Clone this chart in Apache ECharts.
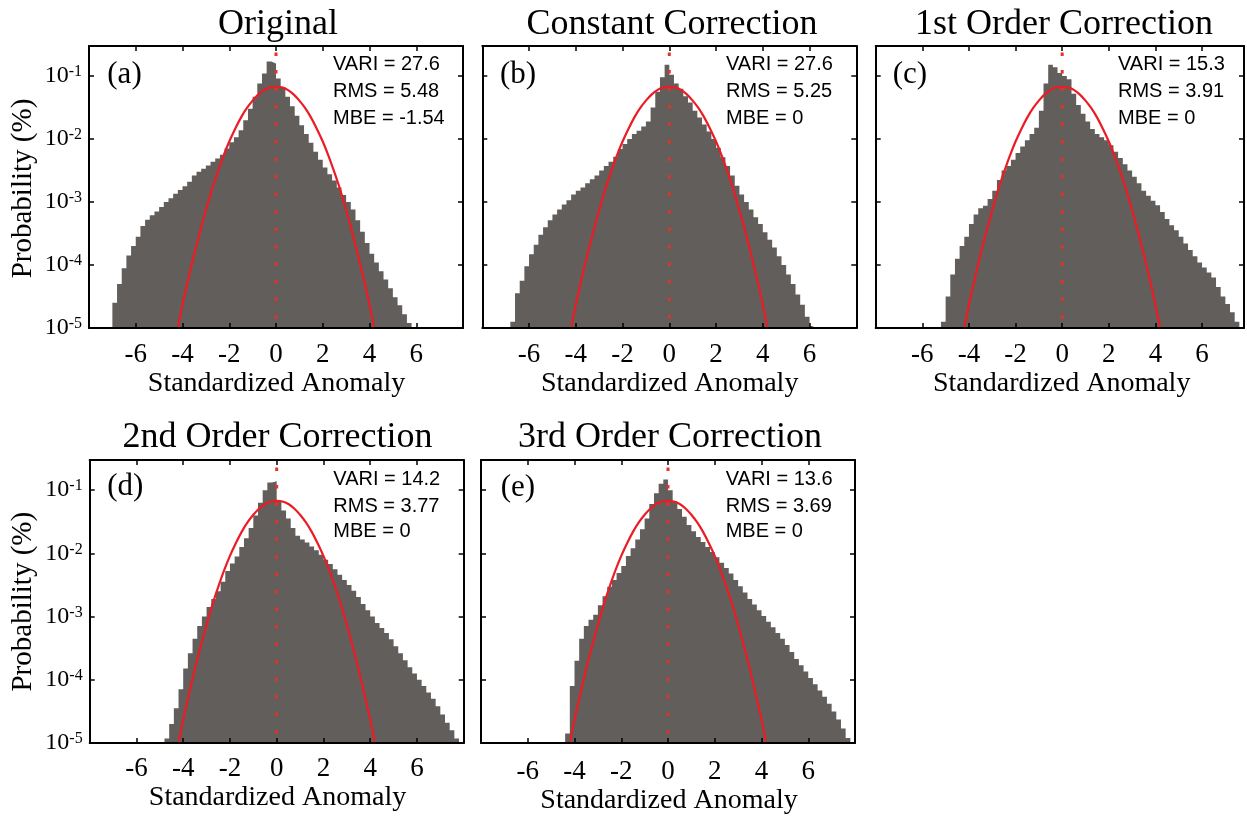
<!DOCTYPE html>
<html>
<head>
<meta charset="utf-8">
<script src="https://cdn.jsdelivr.net/npm/echarts@6/dist/echarts.min.js"></script>
<style>
html,body{margin:0;padding:0;background:#ffffff;}
#chart{width:1247px;height:816px;}
</style>
</head>
<body>
<div id="chart"></div>
<script>
// ---------------- DATA ----------------
const BIN_WIDTH = 0.2;
const panelTitles = ['Original', 'Constant Correction', '1st Order Correction', '2nd Order Correction', '3rd Order Correction'];
const panelTags = ['(a)', '(b)', '(c)', '(d)', '(e)'];
const variValues = ['27.6', '27.6', '15.3', '14.2', '13.6'];
const rmsValues = ['5.48', '5.25', '3.91', '3.77', '3.69'];
const mbeValues = ['-1.54', '0', '0', '0', '0'];
const xTickLabels = [-6, -4, -2, 0, 2, 4, 6];
const yTickExponents = [-5, -4, -3, -2, -1];
const xAxisName = 'Standardized Anomaly';
const yAxisName = 'Probability (%)';

// left edge of the first histogram bin in each panel
const binStarts = [-7.0, -6.8, -5.2, -4.8, -4.4];

// histogram bar heights, read as log10(probability) off the log axis
const log10ProbA = [
  -4.6, -4.3, -4.05, -3.85, -3.7, -3.55, -3.38, -3.28, -3.21, -3.15,
  -3.08, -3.0, -2.94, -2.87, -2.81, -2.75, -2.68, -2.58, -2.52, -2.47,
  -2.42, -2.36, -2.31, -2.25, -2.15, -2.05, -1.97, -1.86, -1.7, -1.52,
  -1.33, -1.12, -0.96, -0.77, -0.8,
  -1.04, -1.18, -1.33, -1.48, -1.63, -1.78, -1.92, -2.06, -2.2, -2.33,
  -2.45, -2.56, -2.66, -2.77, -2.89, -3.0, -3.12, -3.29, -3.47, -3.65,
  -3.82, -3.96, -4.1, -4.23, -4.37, -4.51, -4.64, -4.78, -4.92
];
const log10ProbB = [
  -4.9, -4.45, -4.25, -4.02, -3.83, -3.68, -3.52, -3.4, -3.29, -3.2,
  -3.12, -3.04, -2.97, -2.88, -2.82, -2.77, -2.7, -2.64, -2.58, -2.5,
  -2.43, -2.36, -2.28, -2.16, -2.08, -2.0, -1.92, -1.87, -1.8, -1.72,
  -1.5, -1.25, -1.02, -0.82,
  -0.98, -1.12, -1.2, -1.32, -1.42, -1.55, -1.66, -1.77, -1.88, -2.0,
  -2.14, -2.29, -2.43, -2.58, -2.74, -2.88, -3.0, -3.12, -3.24, -3.35,
  -3.48, -3.6, -3.72, -3.86, -4.0, -4.15, -4.3, -4.47, -4.63, -4.82, -4.97
];
const log10ProbC = [
  -4.9, -4.5, -4.15, -3.9, -3.7, -3.55, -3.35, -3.2, -3.1, -3.06,
  -2.95, -2.82, -2.65, -2.5, -2.43, -2.33, -2.22, -2.12, -2.02, -1.92,
  -1.82, -1.55, -1.12, -0.82, -0.86, -0.95,
  -1.0, -1.05, -1.28, -1.46, -1.6, -1.72, -1.84, -1.92, -1.97, -2.02,
  -2.1, -2.2, -2.3, -2.4, -2.5, -2.6, -2.7, -2.82, -2.9, -2.98,
  -3.05, -3.16, -3.27, -3.37, -3.45, -3.55, -3.66, -3.76, -3.86, -3.96,
  -4.04, -4.12, -4.2, -4.35, -4.5, -4.62, -4.75, -4.9
];
const log10ProbD = [
  -4.93, -4.7, -4.45, -4.15, -3.82, -3.58, -3.35, -3.15, -3.0, -2.85,
  -2.72, -2.6, -2.45, -2.28, -2.16, -2.05, -1.9, -1.76, -1.6, -1.4,
  -1.2, -1.0, -0.88, -0.86,
  -1.18, -1.32, -1.45, -1.6, -1.72, -1.78, -1.83, -1.89, -1.95, -2.02,
  -2.1, -2.17, -2.25, -2.34, -2.42, -2.5, -2.59, -2.69, -2.8, -2.9,
  -3.0, -3.1, -3.18, -3.26, -3.36, -3.47, -3.58, -3.69, -3.8, -3.9,
  -4.0, -4.1, -4.2, -4.3, -4.42, -4.55, -4.68, -4.8, -4.93
];
const log10ProbE = [
  -4.85, -4.1, -3.7, -3.35, -3.15, -3.05, -2.97, -2.82, -2.68, -2.53,
  -2.42, -2.31, -2.2, -2.04, -1.92, -1.78, -1.62, -1.45, -1.22, -1.05,
  -0.9, -0.83,
  -1.0, -1.18, -1.3, -1.42, -1.55, -1.65, -1.74, -1.82, -1.9, -1.98,
  -2.06, -2.15, -2.23, -2.32, -2.42, -2.52, -2.62, -2.72, -2.81, -2.9,
  -2.99, -3.08, -3.17, -3.26, -3.35, -3.45, -3.56, -3.67, -3.77, -3.87,
  -3.97, -4.07, -4.17, -4.27, -4.38, -4.5, -4.63, -4.77, -4.92
];
const panelLog10Prob = [log10ProbA, log10ProbB, log10ProbC, log10ProbD, log10ProbE];

// red fitted curve (same in every panel)
const curveX = [-4.2, -4.0, -3.75, -3.5, -3.25, -3.0, -2.75, -2.5, -2.25, -2.0, -1.75, -1.5, -1.25, -1.0, -0.75, -0.5, -0.25, 0,
                 0.25, 0.5, 0.75, 1.0, 1.25, 1.5, 1.75, 2.0, 2.25, 2.5, 2.75, 3.0, 3.25, 3.5, 3.75, 4.0, 4.2];
const curveLog10 = [-5.0, -4.63, -4.22, -3.83, -3.47, -3.13, -2.81, -2.53, -2.27, -2.04, -1.84, -1.66, -1.51, -1.39, -1.29, -1.22, -1.18, -1.17,
                    -1.18, -1.22, -1.29, -1.39, -1.51, -1.66, -1.84, -2.04, -2.27, -2.53, -2.81, -3.13, -3.47, -3.83, -4.22, -4.63, -5.0];
const zeroLineX = 0;
const Y_MIN = 1e-5;
const Y_MAX = 0.3;

// ---------------- LAYOUT / STYLE ----------------
const SERIF = '"Liberation Serif", "Times New Roman", Times, serif';
const SANS = '"Liberation Sans", Arial, Helvetica, sans-serif';
const GRAY = '#615e5c';
const RED = '#ec1c24';

const grids = [
  {left: 89, top: 46, width: 374, height: 282, xMax: 8},
  {left: 482.3, top: 46, width: 374, height: 282, xMax: 8},
  {left: 875.7, top: 46, width: 369.2, height: 282, xMax: 7.8},
  {left: 89.7, top: 460, width: 374, height: 283, xMax: 8},
  {left: 481, top: 460, width: 374, height: 283, xMax: 8}
];
const showYLabels = [true, false, false, true, false];
const xLabelMargin = [13, 13, 13, 12, 15];
const titlePos = [[278, 24.5], [672, 24.5], [1064, 24.5], [277.5, 437.8], [670, 437.8]];
const xNamePos = [[276.5, 383.8], [669.7, 383.8], [1061.7, 383.8], [277.5, 797.8], [669, 801]];
const yNamePos = [[23, 188.5], [23, 601.7]];
const tagPos = [[107.3, 75], [500, 75], [892.7, 75], [107.3, 487], [500.7, 488]];
const statX = [333, 726, 1118, 333.3, 725.7];
const statY = [[64.9, 91.5, 118.2], [64.9, 91.5, 118.2], [64.9, 91.5, 118.2], [479.9, 506.5, 531.5], [479.9, 506.5, 531.5]];

// ---------------- BUILD ----------------
function histPoints(start, logs) {
  const pts = logs.map((lv, i) => [start + i * BIN_WIDTH, Math.pow(10, lv)]);
  pts.push([start + logs.length * BIN_WIDTH, Math.pow(10, logs[logs.length - 1])]);
  return pts;
}
const curvePoints = curveX.map((x, i) => [x, Math.pow(10, curveLog10[i])]);

const xLabelFormatter = v => (xTickLabels.some(t => Math.abs(t - v) < 1e-6) ? String(Math.round(v)) : '');
const yLabelFormatter = v => {
  const e = Math.log10(v);
  const r = Math.round(e);
  if (Math.abs(e - r) > 1e-6 || yTickExponents.indexOf(r) < 0) return '';
  return '{b|10}{s|' + r + '}';
};

const axisLineStyle = {show: true, onZero: false, lineStyle: {color: '#000', width: 2}};
const tickStyle = {show: true, inside: true, length: 5, lineStyle: {color: '#000', width: 1.5}};

const option = {
  animation: false,
  backgroundColor: '#ffffff',
  grid: grids.map(g => ({left: g.left, top: g.top, width: g.width, height: g.height, containLabel: false})),
  xAxis: [],
  yAxis: [],
  series: [],
  graphic: {elements: []}
};

grids.forEach((g, i) => {
  const baseX = {
    gridIndex: i, type: 'value', min: -8, max: g.xMax, interval: 2,
    axisLine: axisLineStyle, axisTick: tickStyle, splitLine: {show: false}, z: 6
  };
  option.xAxis.push(Object.assign({}, baseX, {
    position: 'bottom',
    axisLabel: {show: true, formatter: xLabelFormatter, fontFamily: SERIF, fontSize: 27, color: '#000', margin: xLabelMargin[i], showMinLabel: true, showMaxLabel: true}
  }));
  option.xAxis.push(Object.assign({}, baseX, {position: 'top', axisLabel: {show: false}}));

  const baseY = {
    gridIndex: i, type: 'log', logBase: 10, min: Y_MIN, max: Y_MAX,
    axisLine: axisLineStyle, axisTick: tickStyle, splitLine: {show: false}, minorTick: {show: false}, z: 6
  };
  option.yAxis.push(Object.assign({}, baseY, {
    position: 'left',
    axisLabel: {
      show: showYLabels[i], formatter: yLabelFormatter, margin: 7, showMaxLabel: false,
      rich: {
        b: {fontFamily: SERIF, fontSize: 24, color: '#000', lineHeight: 24, verticalAlign: 'bottom'},
        s: {fontFamily: SERIF, fontSize: 16, color: '#000', lineHeight: 16, verticalAlign: 'top'}
      }
    }
  }));
  option.yAxis.push(Object.assign({}, baseY, {position: 'right', axisLabel: {show: false}}));

  const xi = i * 2, yi = i * 2;
  // histogram (step area)
  option.series.push({
    type: 'line', xAxisIndex: xi, yAxisIndex: yi, step: 'end', symbol: 'none', clip: true, z: 2,
    data: histPoints(binStarts[i], panelLog10Prob[i]),
    lineStyle: {width: 0, color: GRAY},
    areaStyle: {color: GRAY, opacity: 1, origin: 'start'}
  });
  // red fitted curve
  option.series.push({
    type: 'line', xAxisIndex: xi, yAxisIndex: yi, symbol: 'none', smooth: 0.35, clip: true, z: 3,
    data: curvePoints,
    lineStyle: {color: RED, width: 2.2}
  });
  // red dotted zero line
  option.series.push({
    type: 'line', xAxisIndex: xi, yAxisIndex: yi, symbol: 'none', clip: true, z: 4,
    data: [[zeroLineX, Y_MIN], [zeroLineX, Y_MAX]],
    lineStyle: {color: '#e3312b', width: 3, type: [3.5, 14], dashOffset: 8}
  });

  const els = option.graphic.elements;
  els.push({type: 'text', x: titlePos[i][0], y: titlePos[i][1], style: {text: panelTitles[i], font: '36px ' + SERIF, fill: '#000', align: 'center', verticalAlign: 'middle', textAlign: 'center', textVerticalAlign: 'middle'}});
  els.push({type: 'text', x: xNamePos[i][0], y: xNamePos[i][1], style: {text: xAxisName, font: '28px ' + SERIF, fill: '#000', align: 'center', verticalAlign: 'middle', textAlign: 'center', textVerticalAlign: 'middle'}});
  els.push({type: 'text', x: tagPos[i][0], y: tagPos[i][1], style: {text: panelTags[i], font: '31px ' + SERIF, fill: '#000', align: 'left', verticalAlign: 'middle', textAlign: 'left', textVerticalAlign: 'middle'}});
  const stats = ['VARI = ' + variValues[i], 'RMS = ' + rmsValues[i], 'MBE = ' + mbeValues[i]];
  stats.forEach((s, k) => {
    els.push({type: 'text', x: statX[i], y: statY[i][k], z: 10, style: {text: s, font: '20px ' + SANS, fill: '#000', align: 'left', verticalAlign: 'middle', textAlign: 'left', textVerticalAlign: 'middle'}});
  });
});
yNamePos.forEach(p => {
  option.graphic.elements.push({type: 'text', x: p[0], y: p[1], rotation: Math.PI / 2, style: {text: yAxisName, font: '29px ' + SERIF, fill: '#000', align: 'center', verticalAlign: 'middle', textAlign: 'center', textVerticalAlign: 'middle'}});
});

const chart = echarts.init(document.getElementById('chart'), null, {renderer: 'canvas'});
chart.setOption(option);
</script>
</body>
</html>
